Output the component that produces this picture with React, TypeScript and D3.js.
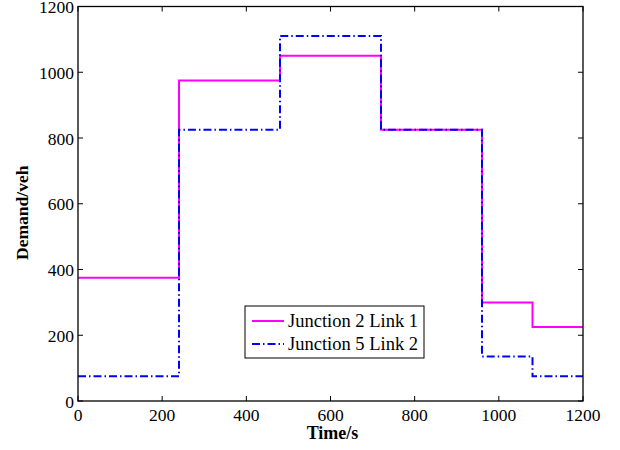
import { useMemo } from "react";
import * as d3 from "d3";

const width = 620;
const height = 450;
const margin = { left: 78, right: 37, top: 6.5, bottom: 49 };

// step change times (s) and demand per interval (veh)
const times = [0, 240, 480, 720, 960, 1080, 1200];
const junction2Link1 = [375, 975, 1050, 825, 300, 225];
const junction5Link2 = [75, 825, 1110, 825, 135, 75];
const xTicks = [0, 200, 400, 600, 800, 1000, 1200];
const yTicks = [0, 200, 400, 600, 800, 1000, 1200];

const series = [
  { name: "Junction 2 Link 1", values: junction2Link1, color: "#ff00ff", dash: "none" },
  { name: "Junction 5 Link 2", values: junction5Link2, color: "#0000ff", dash: "8,3,1.5,3" },
];

const FONT = "'Liberation Serif', 'Times New Roman', serif";

export default function App() {
  const innerW = width - margin.left - margin.right;
  const innerH = height - margin.top - margin.bottom;

  const x = useMemo(() => d3.scaleLinear().domain([0, 1200]).range([0, innerW]), [innerW]);
  const y = useMemo(() => d3.scaleLinear().domain([0, 1200]).range([innerH, 0]), [innerH]);

  const line = d3
    .line<[number, number]>()
    .x((d) => x(d[0]))
    .y((d) => y(d[1]))
    .curve(d3.curveStepAfter);

  const pathFor = (vals: number[]) => {
    const pts: [number, number][] = vals.map((v, i) => [times[i], v]);
    pts.push([times[times.length - 1], vals[vals.length - 1]]);
    return line(pts) || "";
  };

  const tickLen = 5;

  return (
    <svg width={width} height={height} style={{ position: "absolute", left: 0, top: 0, background: "#fff" }}>
      <g transform={`translate(${margin.left},${margin.top})`}>
        {series.map((s) => (
          <path
            key={s.name}
            d={pathFor(s.values)}
            fill="none"
            stroke={s.color}
            strokeWidth={2}
            strokeDasharray={s.dash}
          />
        ))}

        {/* frame */}
        <rect x={0} y={0} width={innerW} height={innerH} fill="none" stroke="#000" strokeWidth={1.3} />

        {xTicks.map((t) => (
          <g key={`x${t}`}>
            <line x1={x(t)} x2={x(t)} y1={innerH} y2={innerH - tickLen} stroke="#000" />
            <line x1={x(t)} x2={x(t)} y1={0} y2={tickLen} stroke="#000" />
            <text x={x(t)} y={innerH + 20} textAnchor="middle" fontFamily={FONT} fontSize={17.5}>
              {t}
            </text>
          </g>
        ))}
        {yTicks.map((t) => (
          <g key={`y${t}`}>
            <line x1={0} x2={tickLen} y1={y(t)} y2={y(t)} stroke="#000" />
            <line x1={innerW} x2={innerW - tickLen} y1={y(t)} y2={y(t)} stroke="#000" />
            <text x={-4} y={y(t) + 6.5} textAnchor="end" fontFamily={FONT} fontSize={17.5}>
              {t}
            </text>
          </g>
        ))}

        <text
          x={innerW / 2 + 2}
          y={innerH + 38}
          textAnchor="middle"
          fontFamily={FONT}
          fontSize={18}
          fontWeight="bold"
        >
          Time/s
        </text>
        <text
          transform={`translate(${-margin.left + 28},${innerH / 2 + 9}) rotate(-90)`}
          textAnchor="middle"
          fontFamily={FONT}
          fontSize={17.5}
          fontWeight="bold"
        >
          Demand/veh
        </text>

        {/* legend */}
        <g transform={`translate(${245 - margin.left},${306 - margin.top})`}>
          <rect x={0} y={0} width={179} height={52} fill="#fff" stroke="#000" strokeWidth={1} />
          {series.map((s, i) => (
            <g key={s.name} transform={`translate(0,${15 + i * 23})`}>
              <line x1={7} x2={39} y1={0} y2={0} stroke={s.color} strokeWidth={2} strokeDasharray={s.dash} />
              <text x={43} y={6} fontFamily={FONT} fontSize={18.5}>
                {s.name}
              </text>
            </g>
          ))}
        </g>
      </g>
    </svg>
  );
}
